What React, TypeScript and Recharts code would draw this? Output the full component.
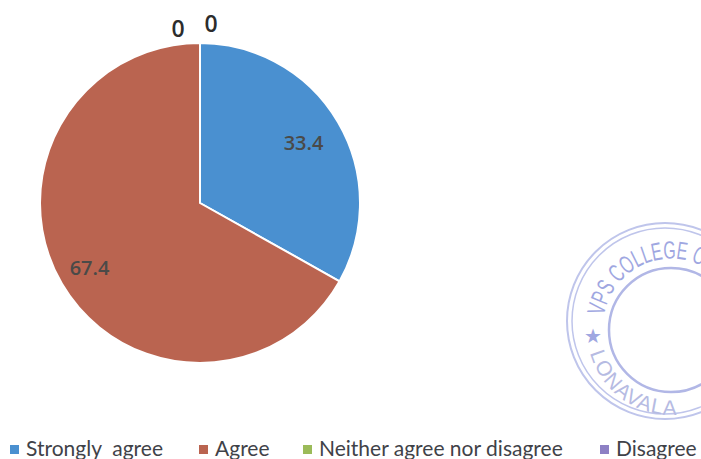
import React from 'react';
import { PieChart, Pie, Legend } from 'recharts';

const categories = ['Strongly  agree', 'Agree', 'Neither agree nor disagree', 'Disagree'];
const values = [33.4, 67.4, 0, 0];
const colors = ['#4a90d0', '#ba6450', '#9bbb59', '#8d80c4'];

const tableData = categories.map((name, i) => ({ name, value: values[i], fill: colors[i] }));

// label placement, by slice
const labelRadius = [120, 128, 175, 180];
const labelNudge = [0, 0, -22, 11];
const legendLeft = [10, 199, 303, 600];

const RAD = Math.PI / 180;

const renderLabel = (props: any) => {
  const { cx, cy, midAngle, index, value } = props;
  const x = cx + labelRadius[index] * Math.cos(midAngle * RAD) + labelNudge[index];
  const y = cy - labelRadius[index] * Math.sin(midAngle * RAD);
  const big = index >= 2;
  return (
    <text
      x={x}
      y={y}
      textAnchor="middle"
      dominantBaseline="central"
      fontFamily="'Open Sans', sans-serif"
      fontSize={big ? 23 : 20}
      fontWeight={600}
      fill={big ? '#2c2c2c' : '#4a4a48'}
    >
      {value}
    </text>
  );
};

const renderLegend = (props: any) => (
  <div style={{ position: 'relative', width: 701, height: 30 }}>
    {(props.payload || []).map((item: any, i: number) => (
      <div
        key={item.value}
        style={{
          position: 'absolute',
          left: legendLeft[i],
          top: 0,
          display: 'flex',
          alignItems: 'center',
          whiteSpace: 'pre',
          fontFamily: 'Lato, sans-serif',
          fontSize: 21,
          lineHeight: '30px',
          color: '#3f4248',
        }}
      >
        <span style={{ width: 9, height: 9, marginRight: 7, marginTop: 3, background: colors[i] }} />
        {item.value}
      </div>
    ))}
  </div>
);

// scanned college stamp in the corner
const Stamp = () => (
  <g fill="none" stroke="#b4bbe8" opacity={0.85}>
    <circle cx={665} cy={321} r={98} strokeWidth={2} />
    <circle cx={665} cy={321} r={93} strokeWidth={1.5} />
    <circle cx={671} cy={330} r={62} strokeWidth={2.5} stroke="#a4abe2" />
    <path id="stampTop" d="M 604 316 A 68 68 0 0 1 739 322" stroke="none" />
    <path id="stampBottom" d="M 590 353 A 85 85 0 0 0 720 400" stroke="none" />
    <text fontFamily="'Liberation Sans', sans-serif" fontSize={25} fill="#8f98dc" stroke="none">
      <textPath href="#stampTop" textLength={128} lengthAdjust="spacingAndGlyphs">VPS COLLEGE O</textPath>
    </text>
    <text fontFamily="'Liberation Sans', sans-serif" fontSize={21} letterSpacing={1} fill="#aab0de" stroke="none">
      <textPath href="#stampBottom">LONAVALA</textPath>
    </text>
    <text x={584} y={343} fontFamily="'DejaVu Sans', sans-serif" fontSize={20} fill="#8f98dc" stroke="none">★</text>
  </g>
);

const App: React.FC = () => {
  return (
    <div style={{ position: 'absolute', left: 0, top: 0, width: 701, height: 459, background: '#fff', overflow: 'hidden' }}>
      <PieChart width={701} height={459} margin={{ top: 0, right: 0, bottom: 0, left: 0 }}>
        <Stamp />
        <Pie
          data={tableData}
          dataKey="value"
          nameKey="name"
          cx={200}
          cy={203}
          outerRadius={160}
          startAngle={90}
          endAngle={-270}
          stroke="#ffffff"
          strokeWidth={2}
          label={renderLabel}
          labelLine={false}
          isAnimationActive={false}
        />
        <Legend content={renderLegend} itemSorter={null} wrapperStyle={{ left: 0, top: 433, width: 701 }} />
      </PieChart>
    </div>
  );
};

export default App;
